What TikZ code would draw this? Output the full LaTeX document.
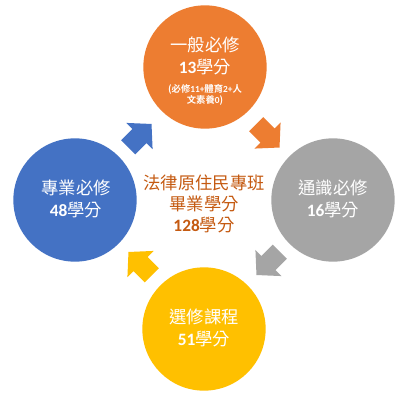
\documentclass[tikz,border=0pt]{standalone}
\usepackage{fontspec}
\newfontfamily\cjk{Noto Sans CJK TC}
\newfontfamily\cjkb{Noto Sans CJK TC Bold}
\newfontfamily\numf{Carlito}[BoldFont={Carlito Bold}]
\newcommand{\nm}[1]{{\numf\bfseries #1}}
\definecolor{cOrange}{HTML}{ED7D31}
\definecolor{cGray}{HTML}{A5A5A5}
\definecolor{cYellow}{HTML}{FFC000}
\definecolor{cBlue}{HTML}{4472C4}
\definecolor{cBrown}{HTML}{C55A11}
\begin{document}
\begin{tikzpicture}[x=0.75pt,y=-0.75pt,
  circ/.style={circle,minimum size=92.5pt,inner sep=0pt,draw=none},
  lbl/.style={text=white,align=center,font=\cjk\fontsize{13}{16.5}\selectfont},
  ]
\useasboundingbox (0,0) rectangle (407,400);
\fill[white] (0,0) rectangle (407,400);
% circles
\node[circ,fill=cOrange] (top) at (205,67) {};
\node[circ,fill=cGray] (right) at (333,200) {};
\node[circ,fill=cYellow] (bottom) at (204,329) {};
\node[circ,fill=cBlue] (left) at (75,200) {};
% labels
\node[lbl] (toplbl) at (205,56) {一般必修\\\nm{13}學分};
\node[text=white,align=center,font=\cjkb\fontsize{7}{8.5}\selectfont] (topsmall) at (205,95) {(必修\nm{11+}體育\nm{2+}人\\文素養\nm{0})};
\node[lbl] (rightlbl) at (333,199) {通識必修\\\nm{16}學分};
\node[lbl] (bottomlbl) at (204,328) {選修課程\\\nm{51}學分};
\node[lbl] (leftlbl) at (76,199) {專業必修\\\nm{48}學分};
\node[text=cBrown,align=center,font=\cjk\fontsize{13}{15.8}\selectfont] (center) at (204,204) {法律原住民專班\\畢業學分\\\nm{128}學分};
% arrows
\foreach \cx/\cy/\ang/\col in {139.5/136/45/cBlue, 267.5/135.5/-45/cOrange, 268.5/263/-135/cGray, 140.5/264/135/cYellow}{
  \begin{scope}[shift={(\cx,\cy)},rotate=\ang]
    \fill[\col] (-16,-10) -- (0,-10) -- (0,-18.5) -- (17,0) -- (0,18.5) -- (0,10) -- (-16,10) -- cycle;
  \end{scope}
}
\end{tikzpicture}
\end{document}
